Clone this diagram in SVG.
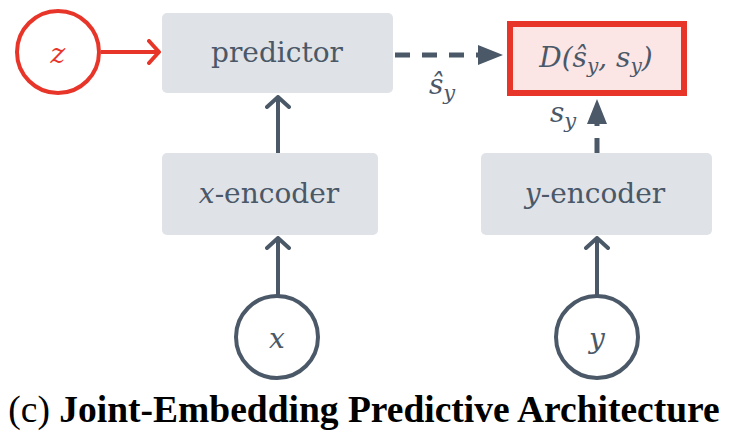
<svg xmlns="http://www.w3.org/2000/svg" width="740" height="444" viewBox="0 0 740 444">
<defs>
<style>
.box{fill:#dfe2e7}
.lbl{font-family:'DejaVu Serif',serif;font-size:28px;fill:#4a5868;text-anchor:middle}
.it{font-style:italic}
.dash{stroke:#4a5868;stroke-width:5;fill:none;stroke-dasharray:15 12}
.circ{fill:#fff;stroke:#4a5868;stroke-width:4}
</style>
<marker id="open" viewBox="0 0 14 26" refX="12" refY="13" markerWidth="14" markerHeight="26" markerUnits="userSpaceOnUse" orient="auto">
<path d="M2,2 L12,13 L2,24" fill="none" stroke="#4a5868" stroke-width="4" stroke-linecap="round" stroke-linejoin="round"/>
</marker>
<marker id="openr" viewBox="0 0 14 26" refX="12" refY="13" markerWidth="14" markerHeight="26" markerUnits="userSpaceOnUse" orient="auto">
<path d="M2,2 L12,13 L2,24" fill="none" stroke="#e8352a" stroke-width="4" stroke-linecap="round" stroke-linejoin="round"/>
</marker>
<marker id="tri" viewBox="0 0 25 20" refX="25" refY="10" markerWidth="25" markerHeight="20" markerUnits="userSpaceOnUse" orient="auto">
<path d="M0,0 L25,10 L0,20 Z" fill="#4a5868"/>
</marker>
</defs>

<g id="connectors">
<line x1="101" y1="52" x2="159" y2="52" stroke="#e8352a" stroke-width="4" marker-end="url(#openr)"/>
<line x1="395" y1="55" x2="503" y2="55" class="dash" marker-end="url(#tri)"/>
<line x1="597" y1="153" x2="597" y2="99" class="dash" stroke-dasharray="13 10" marker-end="url(#tri)"/>
<line x1="278" y1="153" x2="278" y2="97" stroke="#4a5868" stroke-width="4" marker-end="url(#open)"/>
<line x1="278" y1="295" x2="278" y2="238" stroke="#4a5868" stroke-width="4" marker-end="url(#open)"/>
<line x1="597" y1="295" x2="597" y2="238" stroke="#4a5868" stroke-width="4" marker-end="url(#open)"/>
<text x="442" y="94" class="lbl it" font-size="28">ŝ<tspan font-size="21" dy="6">y</tspan></text>
<text x="563" y="122" class="lbl it" font-size="28">s<tspan font-size="21" dy="6">y</tspan></text>
</g>

<g id="z">
<circle cx="58" cy="52" r="41" fill="#fff" stroke="#e8352a" stroke-width="4"/>
<text x="58" y="63" class="lbl it" style="fill:#e8352a" font-size="36">z</text>
</g>

<g id="predictor">
<rect x="162" y="13" width="231" height="80" rx="5" class="box"/>
<text x="277" y="62" class="lbl">predictor</text>
</g>

<g id="D">
<rect x="510" y="24" width="174" height="69" fill="#fbe5e5" stroke="#e8352a" stroke-width="6"/>
<text x="596" y="67" class="lbl it" font-size="28">D(ŝ<tspan font-size="20" dy="6">y</tspan><tspan dy="-6">, s</tspan><tspan font-size="20" dy="6">y</tspan><tspan dy="-6">)</tspan></text>
</g>

<g id="x-encoder">
<rect x="162" y="153" width="216" height="82" rx="5" class="box"/>
<text x="269" y="203" class="lbl"><tspan class="it">x</tspan>-encoder</text>
</g>

<g id="y-encoder">
<rect x="481" y="153" width="231" height="82" rx="5" class="box"/>
<text x="595" y="203" class="lbl"><tspan class="it">y</tspan>-encoder</text>
</g>

<g id="x">
<circle cx="277" cy="337" r="41" class="circ"/>
<text x="277" y="348" class="lbl it" font-size="36">x</text>
</g>

<g id="y">
<circle cx="597" cy="337" r="41" class="circ"/>
<text x="597" y="348" class="lbl it" font-size="36">y</text>
</g>

<text x="364" y="422" font-family="'Liberation Serif', serif" font-size="37.5" fill="#000" text-anchor="middle">(c) <tspan font-weight="bold">Joint-Embedding Predictive Architecture</tspan></text>
</svg>
